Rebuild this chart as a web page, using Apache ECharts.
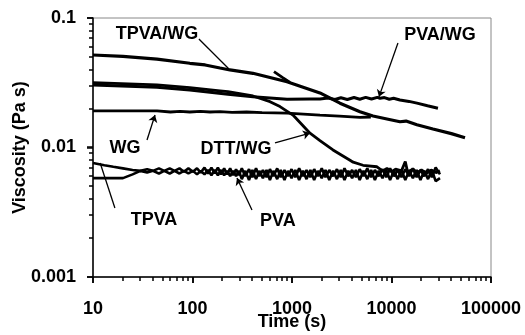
<!DOCTYPE html>
<html><head><meta charset="utf-8">
<script src="https://cdn.jsdelivr.net/npm/echarts@6/dist/echarts.min.js"></script>
<style>html,body{margin:0;padding:0;background:#fff}#c{width:525px;height:335px}</style>
</head><body><div id="c"></div>
<script>
// ---- Data (time in s, viscosity in Pa s) ----
const tpvaWgT = [10, 20, 44, 94, 134, 189, 238, 405, 891, 1910, 3034, 4820, 6518, 9000, 12160, 14000, 18000, 26100, 40000, 54800];
const tpvaWgV = [0.0518, 0.0505, 0.0482, 0.0447, 0.0434, 0.0411, 0.0397, 0.0374, 0.0322, 0.0264, 0.0220, 0.0189, 0.0175, 0.0166, 0.0158, 0.0160, 0.0150, 0.0139, 0.0128, 0.0119];

const tpvaWg2T = [659, 800, 955];
const tpvaWg2V = [0.0385, 0.0348, 0.0318];

const pvaWgT = [10, 44, 94, 227, 405, 891, 1500, 1910, 2300, 2700, 3100, 3600, 4200, 4800, 5500, 6300, 7200, 7660, 8500, 9500, 10500, 12160, 15000, 18030, 23000, 29300];
const pvaWgV = [0.0304, 0.0292, 0.0278, 0.0258, 0.0247, 0.0236, 0.0237, 0.0237, 0.0241, 0.0235, 0.0242, 0.0235, 0.0243, 0.0236, 0.0244, 0.0237, 0.0244, 0.0240, 0.0243, 0.0236, 0.0240, 0.0233, 0.0227, 0.0220, 0.0210, 0.0201];

const dttWgT = [10, 44, 94, 189, 227, 405, 601, 757, 1023, 1517, 1910, 2582, 3828, 4120, 5176, 7145, 8120, 9000, 10000, 11000, 12600, 13760, 14500, 16400, 18000, 20000, 22500, 25000, 28000, 30700];
const dttWgV = [0.0317, 0.0304, 0.0290, 0.0274, 0.0270, 0.0250, 0.0226, 0.0207, 0.0178, 0.0129, 0.0113, 0.00957, 0.00797, 0.0077, 0.00729, 0.0071, 0.0066, 0.0069, 0.0065, 0.0068, 0.0066, 0.0078, 0.0065, 0.0068, 0.0064, 0.0067, 0.0063, 0.0067, 0.0064, 0.0066];

const wgT = [10, 44, 60, 75, 94, 120, 150, 189, 250, 350, 500, 891, 1910, 3000, 4820, 6200];
const wgV = [0.0192, 0.0192, 0.0188, 0.0190, 0.0188, 0.0190, 0.0188, 0.0189, 0.0187, 0.0188, 0.0186, 0.0184, 0.0178, 0.0175, 0.0171, 0.0172];

const lowT = [10, 13, 16, 20, 25, 30, 35, 40, 46, 52, 59, 66, 74, 82, 91, 101, 111, 121, 132, 143, 155, 167, 180, 194, 208, 223, 239, 256, 274, 293,
  313, 340, 370, 400, 435, 470, 510, 555, 600, 650, 710, 770, 840, 910, 990, 1080, 1180, 1290, 1400, 1530, 1670, 1820, 1990, 2170, 2370, 2590, 2830, 3090, 3370, 3680, 4020, 4390, 4790, 5230, 5710, 6240, 6810, 7440, 8120, 8870, 9680, 10570, 11540, 12600, 13760, 15020, 16400, 17900, 19550, 21340, 23300, 25440, 27780, 30700];
const tpvaV = [0.0076, 0.0073, 0.0071, 0.0069, 0.0067, 0.0066, 0.0068, 0.0066, 0.0069, 0.0066, 0.0069, 0.0066, 0.0069, 0.0065, 0.0069, 0.0065, 0.0069, 0.0064, 0.0070, 0.0063, 0.0070, 0.0063, 0.0070, 0.0062, 0.0069, 0.0062, 0.0069, 0.0061, 0.0068, 0.0061,
  0.0069, 0.0060, 0.0068, 0.0059, 0.0069, 0.0060, 0.0067, 0.0059, 0.0068, 0.0060, 0.0069, 0.0059, 0.0067, 0.0060, 0.0068, 0.0059, 0.0069, 0.0060, 0.0067, 0.0059, 0.0068, 0.0060, 0.0069, 0.0059, 0.0067, 0.0060, 0.0068, 0.0059, 0.0069, 0.0060, 0.0067, 0.0059, 0.0068, 0.0060, 0.0069, 0.0059, 0.0067, 0.0060, 0.0068, 0.0059, 0.0069, 0.0060, 0.0067, 0.0059, 0.0068, 0.0060, 0.0069, 0.0059, 0.0067, 0.0060, 0.0068, 0.0059, 0.0070, 0.0062];
const pvaV = [0.0058, 0.0058, 0.0058, 0.0058, 0.0062, 0.0066, 0.0064, 0.0066, 0.0063, 0.0066, 0.0063, 0.0066, 0.0063, 0.0066, 0.0063, 0.0066, 0.0062, 0.0066, 0.0062, 0.0067, 0.0061, 0.0067, 0.0061, 0.0067, 0.0061, 0.0066, 0.0060, 0.0066, 0.0060, 0.0066,
  0.0057, 0.0066, 0.0056, 0.0067, 0.0057, 0.0066, 0.0058, 0.0067, 0.0056, 0.0066, 0.0057, 0.0067, 0.0056, 0.0066, 0.0058, 0.0067, 0.0056, 0.0066, 0.0057, 0.0067, 0.0056, 0.0066, 0.0058, 0.0067, 0.0056, 0.0066, 0.0057, 0.0067, 0.0056, 0.0066, 0.0058, 0.0067, 0.0056, 0.0066, 0.0057, 0.0067, 0.0056, 0.0066, 0.0058, 0.0067, 0.0056, 0.0066, 0.0057, 0.0067, 0.0056, 0.0066, 0.0058, 0.0067, 0.0056, 0.0066, 0.0057, 0.0067, 0.0055, 0.0058];

const xMajorTicks = [10, 100, 1000, 10000, 100000];
const yMajorTicks = [0.001, 0.01, 0.1];
const xMinorTicks = [20, 30, 40, 50, 60, 70, 80, 90, 200, 300, 400, 500, 600, 700, 800, 900, 2000, 3000, 4000, 5000, 6000, 7000, 8000, 9000, 20000, 30000, 40000, 50000, 60000, 70000, 80000, 90000];
const yMinorTicks = [0.002, 0.003, 0.004, 0.005, 0.006, 0.007, 0.008, 0.009, 0.02, 0.03, 0.04, 0.05, 0.06, 0.07, 0.08, 0.09];

// annotations (data coordinates)
const labelText = ['TPVA/WG', 'PVA/WG', 'WG', 'DTT/WG', 'TPVA', 'PVA'];
const labelT = [44, 30700, 21, 274, 41, 722];
const labelV = [0.0746, 0.0740, 0.0099, 0.00974, 0.00275, 0.0027];
const arrowFrom = [[116, 0.0689], [11610, 0.0641], [34.9, 0.01143], [675, 0.01084], [16.6, 0.00341], [396, 0.00329]];
const arrowTo = [[238, 0.0397], [7480, 0.0246], [42, 0.0178], [1517, 0.01294], [11.8, 0.00759], [280, 0.00581]];
const arrowHead = [false, true, true, true, false, true];

// ---- Chart ----
const X_MIN = 10, X_MAX = 100000, Y_MIN = 0.001, Y_MAX = 0.1;
const FONT = 'Liberation Sans, Arial, Helvetica, sans-serif';
const txt = { color: '#000', fontSize: 18, fontWeight: 'bold', fontFamily: FONT };
function fmt(v) { return String(+(+v).toPrecision(6)); }
function line(name, t, v, w) {
  return {
    name, type: 'line', data: t.map((x, i) => [x, v[i]]),
    symbol: 'none', showSymbol: false, silent: true, animation: false,
    lineStyle: { color: '#000', width: w }, itemStyle: { color: '#000' }
  };
}
const main = line('TPVA/WG', tpvaWgT, tpvaWgV, 3.2);
main.markPoint = {
  silent: true, animation: false,
  data: labelText.map((s, i) => ({
    coord: [labelT[i], labelV[i]], name: s, symbol: 'circle', symbolSize: 1,
    itemStyle: { color: 'rgba(0,0,0,0)' },
    label: Object.assign({ show: true, position: 'inside', formatter: s }, txt)
  }))
};
main.markLine = {
  silent: true, animation: false, symbolSize: 7,
  label: { show: false },
  lineStyle: { color: '#000', width: 1.3, type: 'solid' },
  data: arrowFrom.map((a, i) => [
    { coord: a, symbol: 'none' },
    { coord: arrowTo[i], symbol: arrowHead[i] ? 'arrow' : 'none' }
  ])
};

const series = [
  main,
  line('TPVA/WG 2', tpvaWg2T, tpvaWg2V, 2.8),
  line('PVA/WG', pvaWgT, pvaWgV, 3),
  line('DTT/WG', dttWgT, dttWgV, 2.8),
  line('WG', wgT, wgV, 2.8),
  line('TPVA', lowT, tpvaV, 2.6),
  line('PVA', lowT, pvaV, 2.6)
];

const chart = echarts.init(document.getElementById('c'), null, { renderer: 'canvas' });
chart.setOption({
  animation: false,
  backgroundColor: '#fff',
  grid: { left: 93, right: 34, top: 18, bottom: 58, show: true, borderColor: '#888', borderWidth: 1, outerBoundsMode: 'none', containLabel: false },
  xAxis: {
    type: 'log', logBase: 10, min: X_MIN, max: X_MAX, position: 'bottom',
    axisLine: { show: true, lineStyle: { color: '#000', width: 1.5 } },
    axisTick: { show: true, length: 6, lineStyle: { color: '#000', width: 1.5 } },
    axisLabel: Object.assign({ margin: 23, formatter: fmt }, txt),
    splitLine: { show: false },
    name: 'Time (s)', nameLocation: 'middle', nameGap: 36, nameMoveOverlap: false, nameTextStyle: txt
  },
  yAxis: {
    type: 'log', logBase: 10, min: Y_MIN, max: Y_MAX, position: 'left',
    axisLine: { show: true, lineStyle: { color: '#000', width: 1.5 } },
    axisTick: { show: true, length: 6, lineStyle: { color: '#000', width: 1.5 } },
    axisLabel: Object.assign({ margin: 17, formatter: fmt }, txt),
    splitLine: { show: false },
    name: 'Viscosity (Pa s)', nameLocation: 'middle', nameGap: 64, nameMoveOverlap: false, nameRotate: 90, nameTextStyle: txt
  },
  series
});

// Axis ticks (decades and 2..9 sub-ticks), positioned through the chart's own log scales
const tickEls = [];
function addTicks(values, isX, len) {
  values.forEach(v => {
    const p = chart.convertToPixel({ gridIndex: 0 }, isX ? [v, Y_MIN] : [X_MIN, v]);
    if (!p || !isFinite(p[0]) || !isFinite(p[1])) return;
    const x = Math.round(p[0]), y = Math.round(p[1]);
    tickEls.push({
      type: 'rect', silent: true, z: 100,
      shape: isX ? { x: x - 0.75, y: y, width: 1.5, height: len } : { x: x - len, y: y - 0.75, width: len, height: 1.5 },
      style: { fill: '#000' }
    });
  });
}
addTicks(xMajorTicks, true, 6);
addTicks(xMinorTicks, true, 4);
addTicks(yMajorTicks, false, 6);
addTicks(yMinorTicks, false, 4);
chart.setOption({ graphic: { elements: tickEls } });
</script></body></html>
